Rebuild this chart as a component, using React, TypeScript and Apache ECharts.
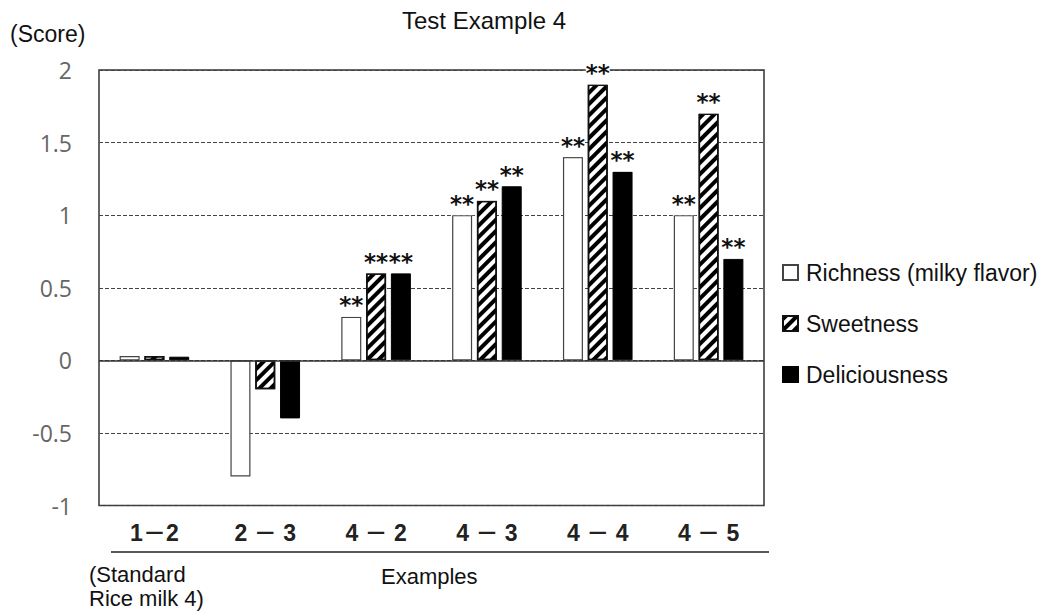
import React, { useEffect, useRef } from "react";
import * as echarts from "echarts";

const categories = ["1－2", "2 － 3", "4 － 2", "4 － 3", "4 － 4", "4 － 5"];
const seriesNames = ["Richness (milky flavor)", "Sweetness", "Deliciousness"];
const richness = [0.03, -0.8, 0.3, 1.0, 1.4, 1.0];
const sweetness = [0.03, -0.2, 0.6, 1.1, 1.9, 1.7];
const deliciousness = [0.025, -0.4, 0.6, 1.2, 1.3, 0.7];
const richnessSig = [false, false, true, true, true, true];
const sweetnessSig = [false, false, true, true, true, true];
const deliciousnessSig = [false, false, true, true, true, true];
const yTicks = { min: -1, max: 2, interval: 0.5 };

const ARIAL = "'Liberation Sans', Arial, sans-serif";

function buildData(values: number[], sig: boolean[]) {
  return values.map((v, i) => ({ value: v, label: { show: sig[i] } }));
}

const starLabel = {
  position: "top" as const,
  distance: 0,
  formatter: "**",
  fontSize: 23,
  fontWeight: "bold" as const,
  fontFamily: "'DejaVu Sans', sans-serif",
  color: "#111",
  backgroundColor: "#fff",
  padding: [0, 0, 0, 0],
};

export default function App() {
  const ref = useRef<HTMLDivElement>(null);
  useEffect(() => {
    if (!ref.current) return;
    const chart = echarts.init(ref.current, undefined, { renderer: "svg" });
    chart.setOption({
      animation: false,
      backgroundColor: "#fff",
      title: {
        text: "Test Example 4",
        left: 397,
        top: 3,
        textStyle: { fontFamily: ARIAL, fontSize: 24, fontWeight: "normal", color: "#111" },
      },
      legend: {
        orient: "vertical",
        left: 777,
        top: 256,
        itemWidth: 15,
        itemHeight: 15,
        itemGap: 28,
        icon: "rect",
        data: seriesNames,
        textStyle: { fontFamily: ARIAL, fontSize: 23, color: "#111", padding: [0, 0, 0, 3] },
      },
      grid: {
        left: 99,
        right: 285,
        top: 70,
        bottom: 107.5,
        show: true,
        borderColor: "#333",
        borderWidth: 1.5,
        backgroundColor: "transparent",
      },
      xAxis: {
        type: "category",
        data: categories,
        axisLine: { show: false },
        axisTick: { show: false },
        axisLabel: {
          margin: 16,
          fontFamily: "'Liberation Sans', 'Noto Sans CJK JP', sans-serif",
          fontSize: 23,
          fontWeight: "bold",
          color: "#222",
        },
      },
      yAxis: {
        type: "value",
        min: yTicks.min,
        max: yTicks.max,
        interval: yTicks.interval,
        axisLine: { show: false },
        axisTick: { show: false },
        axisLabel: {
          margin: 27,
          fontFamily: "'Open Sans', sans-serif",
          fontSize: 23,
          color: "#666",
        },
        splitLine: { lineStyle: { color: "#444", width: 1.2, type: [4, 2] } },
      },
      series: [
        {
          name: seriesNames[0],
          type: "bar",
          barWidth: 20,
          barGap: "24%",
          data: buildData(richness, richnessSig),
          itemStyle: { color: "#fff", borderColor: "#444", borderWidth: 1.2 },
          label: starLabel,
          markLine: {
            silent: true,
            symbol: "none",
            label: { show: false },
            lineStyle: { color: "#333", width: 1.5, type: "solid" },
            data: [{ yAxis: 0 }],
          },
        },
        {
          name: seriesNames[1],
          type: "bar",
          barWidth: 20,
          barGap: "24%",
          data: buildData(sweetness, sweetnessSig),
          itemStyle: {
            color: "#fff",
            borderColor: "#111",
            borderWidth: 1.5,
            decal: {
              symbol: "rect",
              symbolSize: 1,
              dashArrayX: [1, 0],
              dashArrayY: [4, 4],
              rotation: -Math.PI / 4,
              color: "#000",
            },
          },
          label: starLabel,
        },
        {
          name: seriesNames[2],
          type: "bar",
          barWidth: 20,
          barGap: "24%",
          data: buildData(deliciousness, deliciousnessSig),
          itemStyle: { color: "#000", borderColor: "#000", borderWidth: 1 },
          label: starLabel,
        },
      ],
      graphic: [
        {
          type: "text",
          left: 10,
          top: 22,
          style: { text: "(Score)", fontFamily: ARIAL, fontSize: 23, fill: "#111" },
        },
        {
          type: "line",
          shape: { x1: 111, y1: 552, x2: 769, y2: 552 },
          style: { stroke: "#222", lineWidth: 1.5 },
        },
        {
          type: "text",
          left: 89,
          top: 562,
          style: {
            text: "(Standard\nRice milk 4)",
            fontFamily: ARIAL,
            fontSize: 22,
            lineHeight: 24,
            fill: "#111",
          },
        },
        {
          type: "text",
          left: 381,
          top: 565,
          style: { text: "Examples", fontFamily: ARIAL, fontSize: 22, fill: "#111" },
        },
      ],
    });
    return () => chart.dispose();
  }, []);
  return (
    <div
      ref={ref}
      style={{ position: "fixed", left: 0, top: 0, width: 1049, height: 613, background: "#fff" }}
    />
  );
}
